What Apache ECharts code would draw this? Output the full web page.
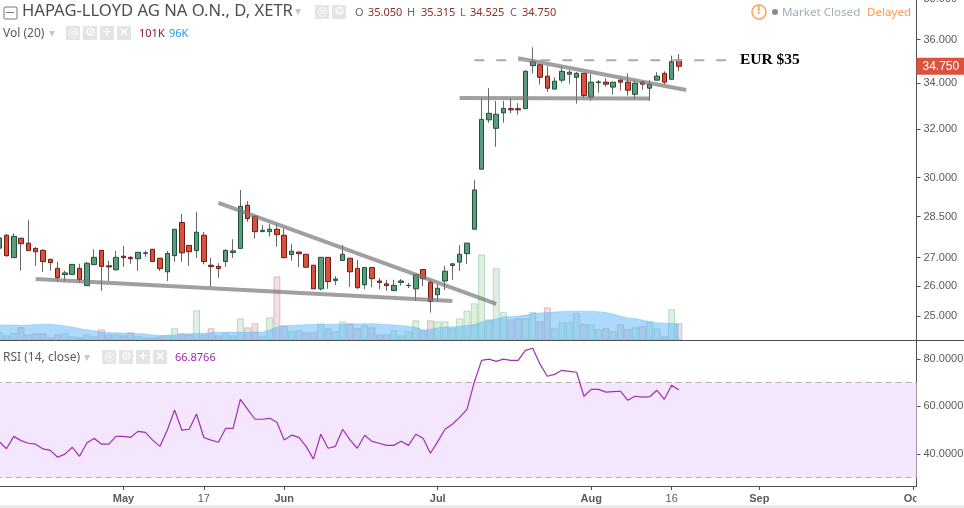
<!DOCTYPE html>
<html>
<head>
<meta charset="utf-8">
<style>html,body{margin:0;padding:0;background:#fff}#chart{width:964px;height:508px}</style>
<script src="https://cdn.jsdelivr.net/npm/echarts@6/dist/echarts.min.js"></script>
</head>
<body>
<div id="chart"></div>
<script>
// open, close, low, high per trading day
var ohlc = [
[27.34,27.71,27.20,27.80],[27.81,27.07,27.03,27.85],[27.00,27.77,27.00,27.88],[27.70,27.50,26.54,27.70],
[27.52,27.25,27.25,28.37],[27.33,27.21,26.71,27.38],[27.26,26.86,26.49,27.30],[26.94,26.82,26.54,26.94],
[26.62,26.30,26.15,26.85],[26.40,26.46,26.18,26.54],[26.41,26.76,26.41,26.76],[26.62,26.23,26.12,26.78],
[26.02,26.80,26.02,26.85],[26.75,27.01,26.75,27.30],[27.26,26.69,25.84,27.26],[26.71,26.67,26.18,26.89],
[26.57,27.01,26.54,27.24],[27.05,27.00,26.67,27.42],[27.01,26.96,26.78,27.05],[26.96,27.19,26.53,27.19],
[27.15,27.17,27.03,27.24],[27.30,26.86,26.86,27.30],[26.98,26.61,26.53,26.98],[26.50,27.15,26.18,27.24],
[27.07,28.03,26.85,28.03],[28.28,27.17,26.85,28.60],[27.44,27.21,26.71,27.44],[27.25,27.92,26.99,28.68],
[27.81,26.86,26.76,27.93],[26.73,26.68,25.97,26.99],[26.69,26.61,26.29,26.80],[26.86,27.26,26.67,27.30],
[27.18,27.24,26.99,27.66],[27.33,28.89,27.33,29.52],[28.93,28.43,28.31,29.09],[28.51,27.94,27.68,28.56],
[27.94,27.99,27.94,28.18],[27.94,28.03,27.76,28.22],[28.03,27.83,27.39,28.22],[27.81,27.00,26.97,28.06],
[27.11,27.23,26.89,27.49],[27.20,27.14,26.67,27.20],[27.12,26.66,26.66,27.12],[26.73,25.91,25.91,26.73],
[25.91,27.01,25.85,27.01],[27.01,26.16,25.91,27.01],[26.20,26.25,26.04,26.35],[26.90,27.12,26.90,27.45],
[26.98,26.50,25.97,26.98],[26.62,25.95,25.91,26.92],[26.05,26.65,25.90,26.65],[26.65,26.26,25.97,26.65],
[26.18,26.13,25.90,26.29],[26.08,26.02,25.84,26.22],[25.85,26.03,25.85,26.22],[26.13,26.18,26.02,26.25],
[26.02,26.03,25.94,26.12],[25.91,26.40,25.50,26.40],[26.58,26.26,26.01,26.58],[26.14,25.48,25.11,26.22],
[25.71,25.93,25.47,26.08],[26.18,26.52,25.87,26.71],[26.72,26.78,26.22,26.78],[26.84,27.12,26.53,27.45],
[27.14,27.52,26.78,27.52],[28.03,29.52,28.03,29.91],[30.34,32.40,30.34,33.31],[32.38,32.66,32.26,33.76],
[32.02,32.62,31.25,33.20],[32.68,32.87,32.26,33.20],[32.86,32.81,32.66,33.31],[32.86,32.81,32.60,33.10],
[32.86,34.52,32.86,34.57],[34.78,34.96,34.43,35.63],[34.82,34.25,33.92,34.85],[34.30,33.76,33.60,34.75],
[33.72,34.07,33.72,34.25],[34.12,34.52,34.01,34.75],[34.39,34.48,33.96,34.57],[34.25,34.43,33.08,34.48],
[34.43,33.44,33.33,34.43],[33.37,34.03,33.21,34.39],[34.01,34.04,33.56,34.12],[34.03,33.94,33.83,34.21],
[33.81,34.03,33.47,34.04],[34.12,34.03,33.65,34.21],[34.03,33.67,33.43,34.43],[33.49,33.98,33.25,34.12],
[34.03,33.94,33.69,34.08],[33.76,33.94,33.21,34.12],[34.12,34.30,34.12,34.48],[34.43,34.03,33.94,34.52],
[34.16,34.96,34.16,35.24],[35.05,34.75,34.525,35.315]
];
var volume = [47,28,41,77,34,41,41,16,34,41,22,16,34,22,65,34,34,28,47,22,16,16,22,28,71,41,34,180,34,71,28,41,28,
131,77,101,22,137,385,89,53,59,47,47,101,71,53,113,101,71,89,77,34,34,59,28,53,119,59,119,113,113,71,131,178,
222,518,125,434,168,125,131,131,168,113,198,71,107,107,162,97,95,65,71,53,95,65,77,83,113,71,22,186,101];
var volumeMa = [91,91,90,89,90,94,95,95,91,85,79,70,62,56,48,45,44,42,41,39,36,30,28,29,31,34,38,39,41,44,47,48,48,
47,47,48,48,61,79,85,88,91,93,94,94,95,95,96,97,97,98,99,97,94,91,88,83,77,61,64,74,79,80,82,87,
94,109,118,127,139,142,145,151,160,163,166,169,172,174,174,174,174,171,166,157,145,133,130,121,109,105,102,101,96];
var rsi = [45.2,42.2,47.4,45.6,44.5,44.1,42.1,41.5,38.6,39.9,42.8,39.0,44.6,46.6,44.1,44.1,47.4,47.4,47.0,49.5,49.1,
45.8,43.2,50.0,58.5,50.0,50.4,56.8,46.9,45.8,44.9,50.8,50.8,63.0,58.8,54.6,54.6,55.0,53.3,45.9,47.9,47.0,43.2,37.8,
48.3,42.4,43.2,50.4,45.9,42.4,47.9,45.3,44.5,43.6,43.6,45.3,43.6,48.3,46.6,40.3,45.2,50.4,52.5,55.4,58.8,70.2,79.4,
79.9,79.0,79.9,79.4,79.4,83.6,84.5,77.8,72.7,73.5,75.2,74.8,74.4,64.3,67.2,67.2,66.0,66.2,66.4,62.6,64.3,63.9,64.1,
66.8,63.0,68.9,66.88];

var dayCount = 126;
var tickDays = [17,28,39,60,81,92,104,125];
var tickNames = ['May','17','Jun','Jul','Aug','16','Sep','Oct'];
var boldNames = ['May','Jun','Jul','Aug','Sep','Oct'];
var priceTicks = [25,26,27,28.5,30,32,34,36,38];
var rsiTicks = [40,60,80];

// drawn lines, [day, price]
var lowerWedge = [[5,26.25],[62,25.50]];
var upperWedge = [[30,29.02],[68,25.40]];
var flatSupport = [[63,33.33],[89,33.31]];
var flagTop = [[71,35.12],[94,33.68]];
var targetLine = [[65,35.03],[100,35.03]];
var lastClose = 34.75;

var categories = [];
for (var i = 0; i < dayCount; i++) {
    var t = tickDays.indexOf(i);
    categories.push(t >= 0 ? tickNames[t] : 'd' + i);
}

var upBody = '#5c9c7c', upEdge = '#1d5238', downBody = '#d9503c', downEdge = '#6f1c15';
var axisGray = '#4f4f4f', textGray = '#5a5a5a';

var bodies = ohlc.map(function (d) {
    return [d[0], d[1], Math.min(d[0], d[1]), Math.max(d[0], d[1])];
});
var volumeBars = volume.map(function (v, i) {
    var up = ohlc[i][1] >= ohlc[i][0];
    return {
        value: v,
        itemStyle: up
            ? { color: 'rgba(95,180,115,0.2)', borderColor: 'rgba(95,180,115,0.4)', borderWidth: 1 }
            : { color: 'rgba(175,95,105,0.2)', borderColor: 'rgba(175,95,105,0.35)', borderWidth: 1 }
    };
});

function drawnLine(name, pts, color, width, dash) {
    return {
        name: name, type: 'line', xAxisIndex: 0, yAxisIndex: 0, data: pts, z: 6,
        symbol: 'none', silent: true, animation: false,
        lineStyle: { color: color, width: width, type: dash || 'solid', cap: 'butt' }
    };
}

// small grey toolbar squares next to the legends
function toolbar(x, y, count) {
    var out = [];
    var glyphs = ['\u25CE', '\u2699', '+', '\u00D7'];
    for (var k = 0; k < count; k++) {
        var left = x + k * 17;
        out.push({ type: 'rect', left: left, top: y, shape: { width: 14, height: 14 }, style: { fill: '#e4e4e4' }, z: 20 });
        out.push({
            type: 'text', left: left + 2, top: y + 1, z: 21,
            style: { text: glyphs[k], fill: '#fff', font: 'bold 12px "DejaVu Sans"', width: 10, align: 'left' }
        });
    }
    return out;
}

function label(text, x, y, color, font) {
    return { type: 'text', left: x, top: y, z: 21, style: { text: text, fill: color, font: font || '12px "Noto Sans"' } };
}

var graphics = [
    { type: 'rect', left: 916.5, top: 487, shape: { width: 48, height: 18 }, style: { fill: '#fff' }, z: 20 },
    { type: 'rect', left: 0, top: 505, shape: { width: 964, height: 3 }, style: { fill: '#e8ebef' }, z: 20 },
    { type: 'line', shape: { x1: 0, y1: 340.5, x2: 964, y2: 340.5 }, style: { stroke: axisGray, lineWidth: 1 }, z: 20 },
    // header
    { type: 'rect', left: 3.5, top: 6.5, shape: { width: 13, height: 12, r: 1 }, style: { fill: '#fff', stroke: '#777', lineWidth: 1 }, z: 20 },
    { type: 'line', shape: { x1: 6, y1: 12.5, x2: 14, y2: 12.5 }, style: { stroke: '#777', lineWidth: 1 }, z: 21 },
    label('HAPAG-LLOYD AG NA O.N., D, XETR', 22, 3, '#4e4e4e', '16.6px "Noto Sans"'),
    label('\u25BE', 295, 6, '#c8c8c8', '12px "DejaVu Sans"'),
    label('O', 355, 7, '#666', '11px "Noto Sans"'),
    label('35.050', 368, 7, '#8f2e24', '11px "Noto Sans"'),
    label('H', 407, 7, '#666', '11px "Noto Sans"'),
    label('35.315', 421, 7, '#8f2e24', '11px "Noto Sans"'),
    label('L', 460, 7, '#666', '11px "Noto Sans"'),
    label('34.525', 470, 7, '#8f2e24', '11px "Noto Sans"'),
    label('C', 510, 7, '#666', '11px "Noto Sans"'),
    label('34.750', 522, 7, '#8f2e24', '11px "Noto Sans"'),
    label('Vol (20)', 3, 28, '#5a5a5a', '12px "Noto Sans"'),
    label('\u25BE', 49, 28, '#c8c8c8', '12px "DejaVu Sans"'),
    label('101K', 139, 28, '#8b1a3c', '11px "Noto Sans"'),
    label('96K', 169, 28, '#2196f3', '11px "Noto Sans"'),
    label('RSI (14, close)', 3, 352, '#5a5a5a', '12px "Noto Sans"'),
    label('\u25BE', 84, 352, '#c8c8c8', '12px "DejaVu Sans"'),
    label('66.8766', 175, 352, '#9c27b0', '11px "Noto Sans"'),
    // market status
    { type: 'circle', shape: { cx: 759, cy: 12, r: 7 }, style: { fill: '#fff', stroke: '#ffa35c', lineWidth: 1.5 }, z: 20 },
    label('!', 757, 5, '#ffa35c', 'bold 12px "Noto Sans"'),
    { type: 'circle', shape: { cx: 775, cy: 12, r: 3 }, style: { fill: '#8a8a8a' }, z: 20 },
    label('Market Closed', 782, 7, '#a2adb8', '11.6px "Noto Sans"'),
    label('Delayed', 867, 7, '#ff9850', '11.6px "Noto Sans"'),
    label('EUR $35', 740, 52, '#000', 'bold 15.5px "Liberation Serif"')
].concat(toolbar(315, 5, 2), toolbar(66, 26, 4), toolbar(102, 350, 4));

var chart = echarts.init(document.getElementById('chart'), null, { renderer: 'canvas' });
chart.setOption({
    animation: false,
    backgroundColor: '#fff',
    graphic: graphics,
    grid: [
        { left: -4.5, width: 921, top: -1.5, height: 341.5, outerBoundsMode: 'none' },
        { left: -4.5, width: 921, top: -1.5, height: 341.5, outerBoundsMode: 'none' },
        { left: -4.5, width: 921, top: 341, height: 145, outerBoundsMode: 'none' }
    ],
    xAxis: [
        { type: 'category', gridIndex: 0, data: categories, show: false },
        { type: 'category', gridIndex: 1, data: categories, show: false },
        {
            type: 'category', gridIndex: 2, data: categories,
            axisLine: { show: true, lineStyle: { color: axisGray } },
            axisTick: {
                show: true, length: 4, alignWithLabel: true, lineStyle: { color: axisGray },
                interval: function (i) { return tickDays.indexOf(i) >= 0; }
            },
            axisLabel: {
                show: true, margin: 7, fontSize: 11, fontFamily: 'Liberation Sans', color: textGray,
                hideOverlap: false,
                interval: function (i) { return tickDays.indexOf(i) >= 0; },
                formatter: function (v) { return boldNames.indexOf(v) >= 0 ? '{b|' + v + '}' : v; },
                rich: { b: { fontWeight: 'bold', fontSize: 11, fontFamily: 'Liberation Sans', color: textGray } }
            }
        }
    ],
    yAxis: [
        {
            type: 'log', logBase: 10, gridIndex: 0, position: 'right', min: 24.22, max: 38,
            splitLine: { show: false },
            axisLine: { show: true, onZero: false, lineStyle: { color: axisGray } },
            axisTick: { show: true, length: 4, customValues: priceTicks, lineStyle: { color: axisGray } },
            axisLabel: {
                show: true, margin: 7, fontSize: 11, fontFamily: 'Liberation Sans', color: textGray,
                customValues: priceTicks, showMinLabel: true, showMaxLabel: true,
                formatter: function (v) { return (+v).toFixed(3); }
            }
        },
        { type: 'value', gridIndex: 1, min: 0, max: 2066, show: false, splitLine: { show: false } },
        {
            type: 'value', gridIndex: 2, position: 'right', min: 26.5, max: 87.55,
            splitLine: { show: false },
            axisLine: { show: true, onZero: false, lineStyle: { color: axisGray } },
            axisTick: { show: true, length: 4, customValues: rsiTicks, lineStyle: { color: axisGray } },
            axisLabel: {
                show: true, margin: 7, fontSize: 11, fontFamily: 'Liberation Sans', color: textGray,
                customValues: rsiTicks, formatter: function (v) { return (+v).toFixed(4); }
            }
        }
    ],
    series: [
        { name: 'Vol', type: 'bar', xAxisIndex: 1, yAxisIndex: 1, data: volumeBars, barWidth: 7, z: 1 },
        {
            name: 'Vol MA', type: 'line', xAxisIndex: 1, yAxisIndex: 1, data: volumeMa, symbol: 'none', z: 2,
            lineStyle: { color: 'rgba(90,180,250,0.35)', width: 1 },
            areaStyle: { color: 'rgba(90,180,250,0.5)', opacity: 1 }
        },
        {
            name: 'Wicks', type: 'candlestick', xAxisIndex: 0, yAxisIndex: 0, data: ohlc, barWidth: 1, z: 3,
            itemStyle: { color: '#666', color0: '#666', borderColor: '#666', borderColor0: '#666', borderWidth: 1 }
        },
        {
            name: 'Bodies', type: 'candlestick', xAxisIndex: 0, yAxisIndex: 0, data: bodies, barWidth: 5, z: 4,
            itemStyle: { color: upBody, color0: downBody, borderColor: upEdge, borderColor0: downEdge, borderWidth: 1 },
            markLine: {
                silent: true, symbol: 'none', animation: false, z: 30, clip: false,
                lineStyle: { color: 'transparent', width: 0 },
                label: {
                    show: true, position: 'end', distance: 0, formatter: '34.750', color: '#fff', fontSize: 12, opacity: 1,
                    fontFamily: 'Liberation Sans', backgroundColor: '#d9533f', padding: [3, 5, 2, 6]
                },
                data: [{ yAxis: lastClose }]
            }
        },
        drawnLine('Lower wedge', lowerWedge, 'rgba(120,120,120,0.7)', 4),
        drawnLine('Upper wedge', upperWedge, 'rgba(120,120,120,0.7)', 4),
        drawnLine('Flat support', flatSupport, 'rgba(120,120,120,0.7)', 4),
        drawnLine('Flag top', flagTop, 'rgba(120,120,120,0.7)', 4),
        drawnLine('Target', targetLine, '#aaaaaa', 2, [10, 12]),
        {
            name: 'RSI', type: 'line', xAxisIndex: 2, yAxisIndex: 2, data: rsi, symbol: 'none', z: 5,
            lineStyle: { color: '#9f2fb3', width: 1.2 },
            markArea: {
                silent: true,
                itemStyle: { color: '#f4e6fd' },
                data: [[{ yAxis: 30 }, { yAxis: 70 }]]
            },
            markLine: {
                silent: true, symbol: 'none', label: { show: false },
                lineStyle: { color: '#bcaabc', type: [6, 4], width: 1 },
                data: [{ yAxis: 70 }, { yAxis: 30 }]
            }
        }
    ]
});
</script>
</body>
</html>
